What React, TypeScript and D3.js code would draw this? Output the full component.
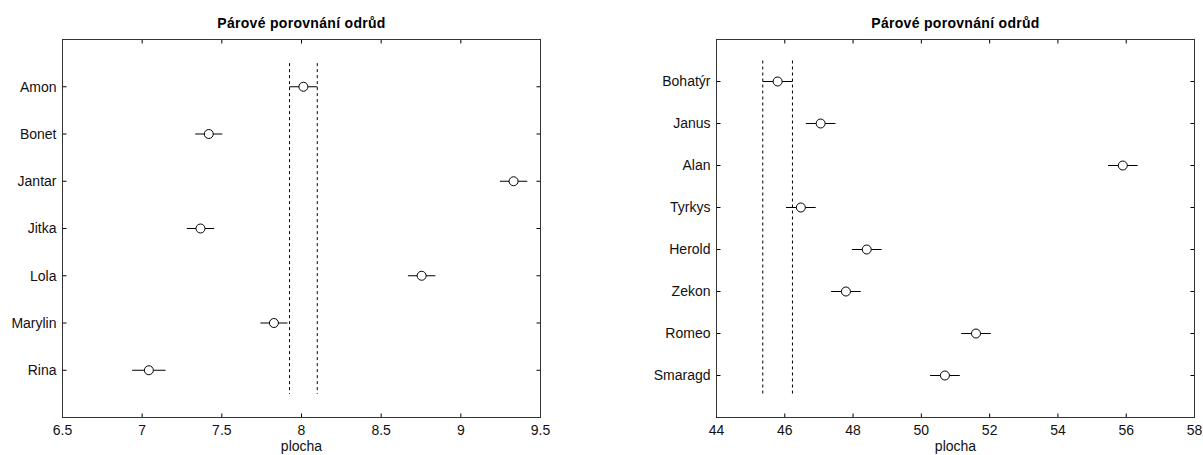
import * as d3 from 'd3'

// left panel
const leftNames = ['Amon', 'Bonet', 'Jantar', 'Jitka', 'Lola', 'Marylin', 'Rina']
const leftMeans = [8.012, 7.418, 9.331, 7.366, 8.754, 7.827, 7.042]
const leftHalf = [0.087, 0.085, 0.086, 0.086, 0.086, 0.085, 0.105]
const leftTicks = [6.5, 7, 7.5, 8, 8.5, 9, 9.5]

// right panel
const rightNames = ['Bohatýr', 'Janus', 'Alan', 'Tyrkys', 'Herold', 'Zekon', 'Romeo', 'Smaragd']
const rightMeans = [45.79, 47.05, 55.9, 46.47, 48.4, 47.79, 51.6, 50.69]
const rightHalf = [0.435, 0.435, 0.435, 0.435, 0.435, 0.435, 0.435, 0.435]
const rightTicks = [44, 46, 48, 50, 52, 54, 56, 58]

const title = 'Párové porovnání odrůd'
const xLabel = 'plocha'

const W = 1203
const H = 455
const top = 39.5
const bottom = 417.5
const font = '"Liberation Sans", Arial, Helvetica, sans-serif'

interface PanelProps {
  left: number
  right: number
  names: string[]
  means: number[]
  halfs: number[]
  ticks: number[]
}

function Panel({ left, right, names, means, halfs, ticks }: PanelProps) {
  const n = names.length
  const x = d3.scaleLinear().domain([ticks[0], ticks[ticks.length - 1]]).range([left, right])
  const y = d3.scaleLinear().domain([0, n + 1]).range([bottom, top])
  const lo = means[0] - halfs[0]
  const hi = means[0] + halfs[0]
  const tl = 4
  const ink = '#000'

  return (
    <g>
      <text x={(left + right) / 2} y={28} textAnchor="middle" fontFamily={font}
        fontWeight="bold" fontSize={14} letterSpacing={0.3} fill={ink}>{title}</text>

      {/* dashed reference interval of the first group */}
      {[lo, hi].map((v, i) => (
        <line key={'d' + i} x1={x(v)} x2={x(v)} y1={y(n + 0.5)} y2={y(0.5)}
          stroke="#000" strokeWidth={1} strokeDasharray="3,3" />
      ))}

      {names.map((name, i) => {
        const yy = y(n - i)
        return (
          <g key={name}>
            <line x1={x(means[i] - halfs[i])} x2={x(means[i] + halfs[i])} y1={yy} y2={yy}
              stroke="#000" strokeWidth={1} />
            <circle cx={x(means[i])} cy={yy} r={4.5} fill="#fff" stroke="#000" strokeWidth={1} />
            <line x1={left} x2={left + tl} y1={yy} y2={yy} stroke={ink} />
            <line x1={right} x2={right - tl} y1={yy} y2={yy} stroke={ink} />
            <text x={left - 6} y={yy} dy="0.35em" textAnchor="end" fontFamily={font}
              fontSize={14} fill="#111">{name}</text>
          </g>
        )
      })}

      {ticks.map(t => (
        <g key={'t' + t}>
          <line x1={x(t)} x2={x(t)} y1={bottom} y2={bottom - tl} stroke={ink} />
          <line x1={x(t)} x2={x(t)} y1={top} y2={top + tl} stroke={ink} />
          <text x={x(t)} y={435} textAnchor="middle" fontFamily={font} fontSize={14}
            fill="#111">{String(t)}</text>
        </g>
      ))}

      <rect x={left} y={top} width={right - left} height={bottom - top}
        fill="none" stroke="#333" strokeWidth={1} />

      <text x={(left + right) / 2} y={451} textAnchor="middle" fontFamily={font}
        fontSize={14} fill="#111">{xLabel}</text>
    </g>
  )
}

export default function App() {
  return (
    <div style={{ position: 'absolute', left: 0, top: 0, background: '#fff' }}>
      <svg width={W} height={H} style={{ display: 'block' }} shapeRendering="auto">
        <rect width={W} height={H} fill="#fff" />
        <Panel left={62.5} right={540.5} names={leftNames} means={leftMeans}
          halfs={leftHalf} ticks={leftTicks} />
        <Panel left={716.5} right={1194.5} names={rightNames} means={rightMeans}
          halfs={rightHalf} ticks={rightTicks} />
      </svg>
    </div>
  )
}
